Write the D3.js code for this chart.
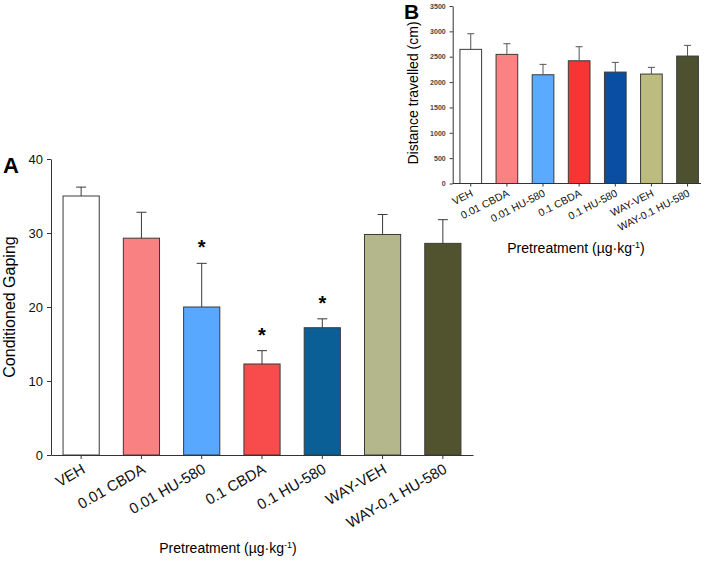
<!DOCTYPE html>
<html>
<head>
<meta charset="utf-8">
<script src="https://cdnjs.cloudflare.com/ajax/libs/d3/7.8.5/d3.min.js"></script>
<style>
  body { margin: 0; background: #fff; }
  svg text { font-family: "Liberation Sans", Arial, sans-serif; }
</style>
</head>
<body>
<div class="chart"></div>
<script>
let width = 709;
let height = 567;

// groups shared by both panels
const groups = ["VEH", "0.01 CBDA", "0.01 HU-580", "0.1 CBDA", "0.1 HU-580", "WAY-VEH", "WAY-0.1 HU-580"];

// panel A: conditioned gaping
const gapingMean = [35.0, 29.3, 20.0, 12.3, 17.2, 29.8, 28.6];
const gapingSem = [1.2, 3.5, 5.9, 1.8, 1.2, 2.7, 3.2];
const significant = [false, false, true, true, true, false, false];
const gapingTicks = [0, 10, 20, 30, 40];
const colorsA = ["#ffffff", "#f98181", "#58a8ff", "#f84c4c", "#0a6096", "#b4b78c", "#51532e"];

// panel B: distance travelled
const distMean = [2645, 2546, 2144, 2420, 2197, 2158, 2513];
const distSem = [308, 210, 205, 277, 191, 132, 211];
const distTicks = [0, 500, 1000, 1500, 2000, 2500, 3000, 3500];
const colorsB = ["#ffffff", "#fa8282", "#5aabff", "#f93434", "#0a4ea3", "#bcbc80", "#4d5130"];

const axisColor = "#333";

const svg = d3.select(".chart")
  .append("svg")
  .attr("width", width)
  .attr("height", height);

// ---------- panel A ----------
let xA = d3.scaleBand()
  .domain(groups)
  .range([51, 473])
  .paddingInner(0.4)
  .paddingOuter(0.2);

let yA = d3.scaleLinear()
  .domain([0, 40])
  .range([455, 159]);

const gA = svg.append("g");

gA.selectAll("rect.barA")
  .data(groups)
  .enter()
  .append("rect")
  .attr("class", "barA")
  .attr("x", d => xA(d))
  .attr("y", (d, i) => yA(gapingMean[i]))
  .attr("width", xA.bandwidth())
  .attr("height", (d, i) => yA(0) - yA(gapingMean[i]))
  .attr("fill", (d, i) => colorsA[i])
  .attr("stroke", "#3a3a3a")
  .attr("stroke-width", 1);

// error bars (upper only)
gA.selectAll("path.errA")
  .data(groups)
  .enter()
  .append("path")
  .attr("class", "errA")
  .attr("d", (d, i) => {
    let cx = xA(d) + xA.bandwidth() / 2;
    let top = yA(gapingMean[i] + gapingSem[i]);
    return "M" + cx + "," + yA(gapingMean[i]) + "V" + top + "M" + (cx - 5) + "," + top + "H" + (cx + 5);
  })
  .attr("stroke", "#3a3a3a")
  .attr("fill", "none");

// asterisks
gA.selectAll("text.star")
  .data(groups.filter((d, i) => significant[i]))
  .enter()
  .append("text")
  .attr("class", "star")
  .attr("x", d => xA(d) + xA.bandwidth() / 2)
  .attr("y", d => {
    let i = groups.indexOf(d);
    return yA(gapingMean[i] + gapingSem[i]) - 20 + 11;
  })
  .attr("text-anchor", "middle")
  .style("font-size", "20px")
  .style("font-weight", "bold")
  .text("*");

const xAxisA = d3.axisBottom(xA).tickSize(4).tickSizeOuter(0);
const axA = gA.append("g")
  .attr("transform", "translate(0," + yA(0) + ")")
  .call(xAxisA);
axA.selectAll("text")
  .attr("text-anchor", "end")
  .attr("dy", null)
  .attr("y", 0)
  .attr("transform", "translate(5,17) rotate(-30)")
  .style("font-size", "15px")
  .attr("fill", "#111");

const yAxisA = d3.axisLeft(yA).tickValues(gapingTicks).tickSize(4).tickSizeOuter(0);
const ayA = gA.append("g")
  .attr("transform", "translate(51,0)")
  .call(yAxisA);
ayA.selectAll("text").style("font-size", "13px").attr("fill", "#111").attr("x", -8);

[axA, ayA].forEach(a => {
  a.select(".domain").attr("stroke", axisColor);
  a.selectAll(".tick line").attr("stroke", axisColor);
});

gA.append("text")
  .attr("transform", "translate(15," + ((yA(0) + yA(40)) / 2) + ") rotate(-90)")
  .attr("text-anchor", "middle")
  .style("font-size", "16px")
  .text("Conditioned Gaping");

let labA = gA.append("text")
  .attr("x", 228)
  .attr("y", 553)
  .attr("text-anchor", "middle")
  .style("font-size", "14px");
labA.append("tspan").text("Pretreatment (µg·kg");
labA.append("tspan").attr("dy", -5).style("font-size", "9px").text("-1");
labA.append("tspan").attr("dy", 5).text(")");

gA.append("text")
  .attr("x", 3)
  .attr("y", 173)
  .style("font-size", "22px")
  .style("font-weight", "bold")
  .text("A");

// ---------- panel B ----------
let stepB = 36.13;
let xB = d3.scaleBand()
  .domain(groups)
  .range([452.7, 452.7 + stepB * groups.length])
  .paddingInner(0.4)
  .paddingOuter(0.2);

let yB = d3.scaleLinear()
  .domain([0, 3500])
  .range([183.5, 6]);

const gB = svg.append("g");

gB.selectAll("rect.barB")
  .data(groups)
  .enter()
  .append("rect")
  .attr("class", "barB")
  .attr("x", d => xB(d))
  .attr("y", (d, i) => yB(distMean[i]))
  .attr("width", xB.bandwidth())
  .attr("height", (d, i) => yB(0) - yB(distMean[i]))
  .attr("fill", (d, i) => colorsB[i])
  .attr("stroke", "#3a3a3a")
  .attr("stroke-width", 1);

gB.selectAll("path.errB")
  .data(groups)
  .enter()
  .append("path")
  .attr("class", "errB")
  .attr("d", (d, i) => {
    let cx = xB(d) + xB.bandwidth() / 2;
    let top = yB(distMean[i] + distSem[i]);
    return "M" + cx + "," + yB(distMean[i]) + "V" + top + "M" + (cx - 3.5) + "," + top + "H" + (cx + 3.5);
  })
  .attr("stroke", "#555")
  .attr("fill", "none");

const xAxisB = d3.axisBottom(xB).tickSize(3).tickSizeOuter(0);
const axB = gB.append("g")
  .attr("transform", "translate(0," + yB(0) + ")")
  .call(xAxisB);
axB.select(".domain").attr("d", "M452.7,0H701");
axB.selectAll("text")
  .attr("text-anchor", "end")
  .attr("dy", null)
  .attr("y", 0)
  .attr("transform", "translate(3,12) rotate(-27)")
  .style("font-size", "10.5px")
  .attr("fill", "#111");

const yAxisB = d3.axisLeft(yB).tickValues(distTicks).tickFormat(d3.format("d")).tickSize(3).tickSizeOuter(0);
const ayB = gB.append("g")
  .attr("transform", "translate(452.7,0)")
  .call(yAxisB);
ayB.selectAll("text")
  .style("font-size", "7px")
  .style("font-weight", "bold")
  .attr("fill", "#444")
  .attr("x", -7);

[axB, ayB].forEach(a => {
  a.select(".domain").attr("stroke", axisColor);
  a.selectAll(".tick line").attr("stroke", axisColor);
});

gB.append("text")
  .attr("transform", "translate(418,93) rotate(-90)")
  .attr("text-anchor", "middle")
  .style("font-size", "14px")
  .text("Distance travelled (cm)");

let labB = gB.append("text")
  .attr("x", 576)
  .attr("y", 253)
  .attr("text-anchor", "middle")
  .style("font-size", "14px");
labB.append("tspan").text("Pretreatment (µg·kg");
labB.append("tspan").attr("dy", -5).style("font-size", "9px").text("-1");
labB.append("tspan").attr("dy", 5).text(")");

gB.append("text")
  .attr("x", 404)
  .attr("y", 19)
  .style("font-size", "21px")
  .style("font-weight", "bold")
  .text("B");
</script>
</body>
</html>
